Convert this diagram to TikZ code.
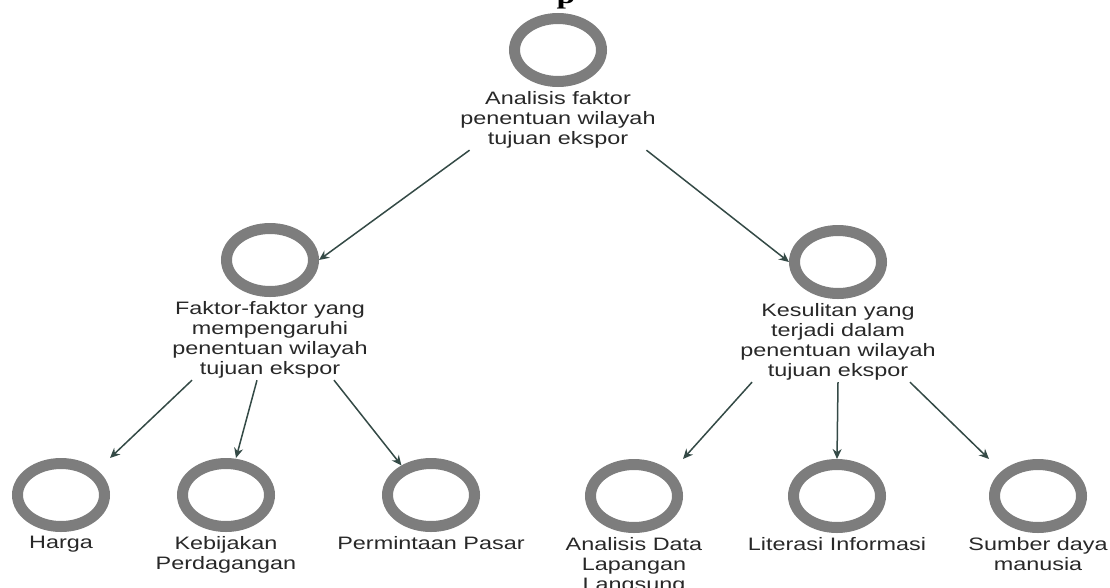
\documentclass[tikz,border=0pt]{standalone}
\usepackage{fontspec}
\setmainfont{Liberation Sans}
\newfontfamily\titleserif{Liberation Serif}
\usetikzlibrary{positioning,shapes.geometric,arrows.meta}

\definecolor{ringgray}{RGB}{125,125,125}
\definecolor{arrowgreen}{RGB}{52,74,70}
\definecolor{textgray}{RGB}{40,40,40}

\tikzset{
	ring/.style={ellipse, draw=ringgray, line width=11pt, minimum width=87pt, minimum height=63pt, inner sep=0pt},
	lbl/.style={align=center, text=textgray, font=\fontsize{18}{20}\selectfont, xscale=1.3, inner sep=2pt},
	link/.style={->, >={Stealth[length=10pt,width=9pt]}, line width=1.5pt, draw=arrowgreen}
}

\begin{document}
\begin{tikzpicture} [x=1pt, y=-1pt]

		\useasboundingbox (0,0) rectangle (1110,587);
		\clip (0,0) rectangle (1110,587);

		\coordinate (T) at (558,50);
		\coordinate (L) at (270,260);
		\coordinate (R) at (838,262);
		\coordinate (B1) at (61,495);
		\coordinate (B2) at (226,495);
		\coordinate (B3) at (431,495);
		\coordinate (B4) at (634,496);
		\coordinate (B5) at (837,496);
		\coordinate (B6) at (1038,496);

		% cut-off heading
		\node[font=\titleserif\bfseries\fontsize{26}{26}\selectfont, xscale=1.3, anchor=base, inner sep=0pt] (titleP) at (566,3) {p};

		\node[ring] (ringTop) at (T) {};
		\node[lbl, below=2pt of ringTop] (lblTop) {Analisis faktor\\penentuan wilayah\\tujuan ekspor};

		\node[ring] (ringFaktor) at (L) {};
		\node[lbl, below=2pt of ringFaktor] (lblFaktor) {Faktor-faktor yang\\mempengaruhi\\penentuan wilayah\\tujuan ekspor};
		\node[ring] (ringKesulitan) at (R) {};
		\node[lbl, below=2pt of ringKesulitan] (lblKesulitan) {Kesulitan yang\\terjadi dalam\\penentuan wilayah\\tujuan ekspor};

		\node[ring] (ringHarga) at (B1) {};
		\node[lbl, below=2pt of ringHarga] (lblHarga) {Harga};
		\node[ring] (ringKebijakan) at (B2) {};
		\node[lbl, below=2pt of ringKebijakan] (lblKebijakan) {Kebijakan\\Perdagangan};
		\node[ring] (ringPermintaan) at (B3) {};
		\node[lbl, below=2pt of ringPermintaan] (lblPermintaan) {Permintaan Pasar};
		\node[ring] (ringAnalisis) at (B4) {};
		\node[lbl, below=2pt of ringAnalisis] (lblAnalisis) {Analisis Data\\Lapangan\\Langsung};
		\node[ring] (ringLiterasi) at (B5) {};
		\node[lbl, below=2pt of ringLiterasi] (lblLiterasi) {Literasi Informasi};
		\node[ring] (ringSumber) at (B6) {};
		\node[lbl, below=2pt of ringSumber] (lblSumber) {Sumber daya\\manusia};

		\draw[link] ([xshift=12pt]lblTop.south west) -- (ringFaktor.east);
		\draw[link] ([xshift=-12pt]lblTop.south east) -- (ringKesulitan.west);

		\draw[link] ([xshift=-78pt]lblFaktor.south) -- (ringHarga.north -| ringHarga.east);
		\draw[link] ([xshift=-13pt]lblFaktor.south) -- ([xshift=10pt]ringKebijakan.north);
		\draw[link] ([xshift=64pt]lblFaktor.south) -- (ringPermintaan.135);

		\draw[link] ([xshift=-86pt]lblKesulitan.south) -- (ringAnalisis.north -| ringAnalisis.east);
		\draw[link] (lblKesulitan.south) -- (ringLiterasi.north);
		\draw[link] ([xshift=72pt]lblKesulitan.south) -- (ringSumber.north -| ringSumber.west);

	\end{tikzpicture}
\end{document}
